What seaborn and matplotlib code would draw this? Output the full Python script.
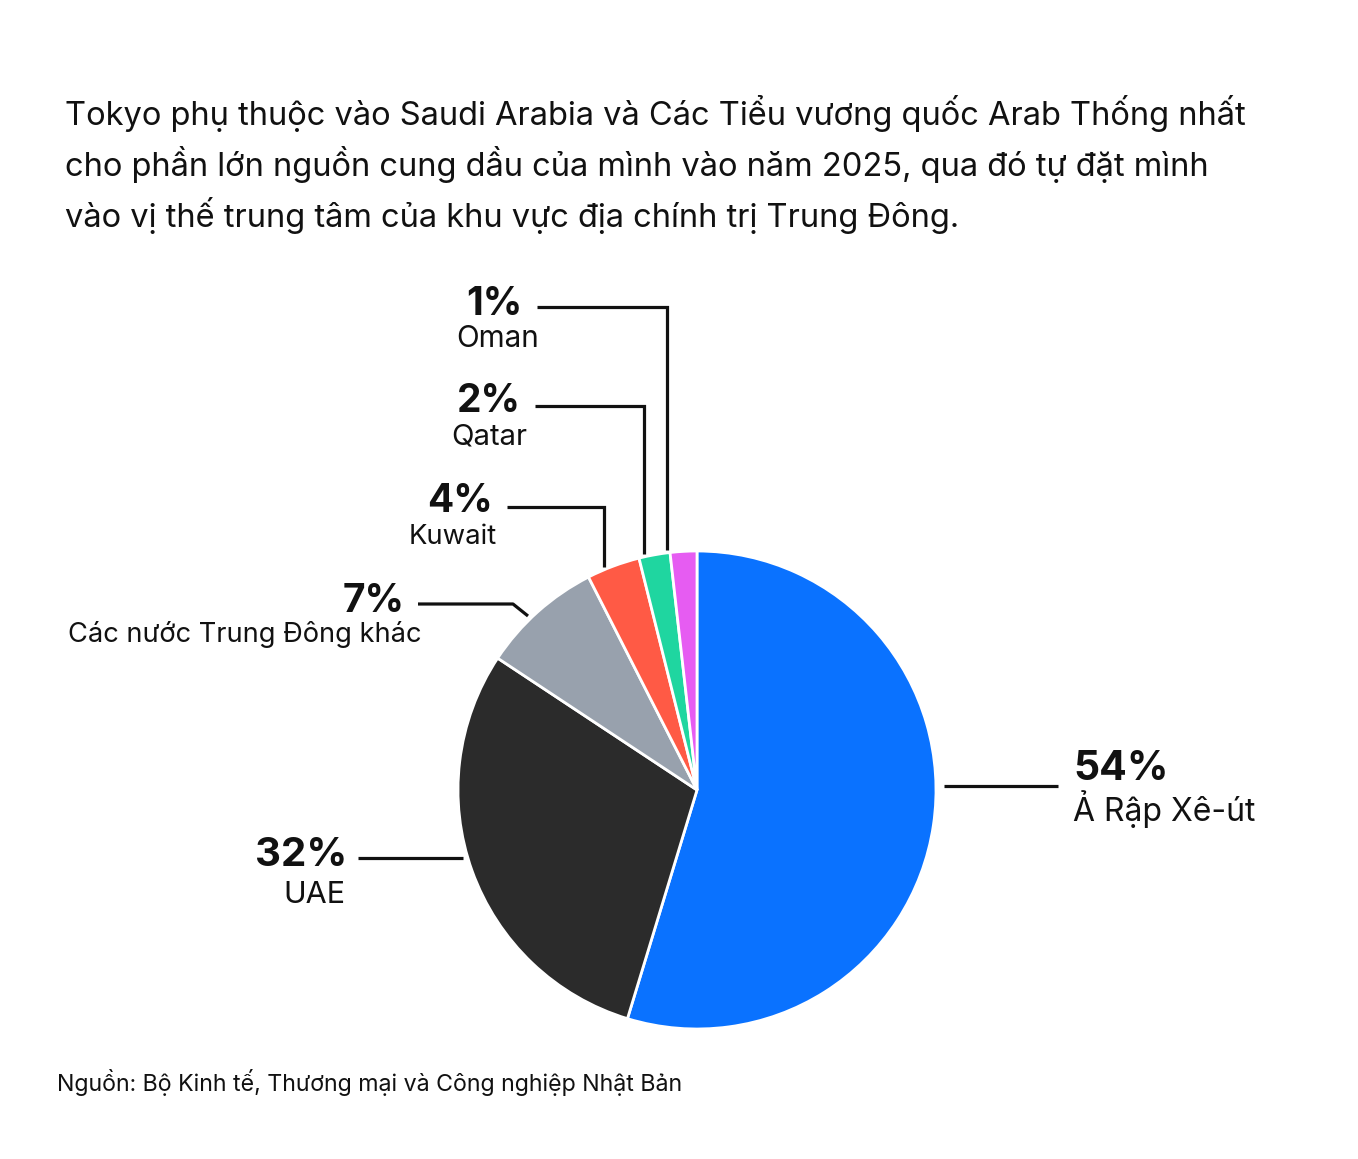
import numpy as np
import matplotlib
matplotlib.use("Agg")
import matplotlib.pyplot as plt
import seaborn as sns
from matplotlib import font_manager

sns.set_theme(style="white")

# ---- data ----
categories = ["Ả Rập Xê-út", "UAE", "Các nước Trung Đông khác", "Kuwait", "Qatar", "Oman"]
pct_labels = ["54%", "32%", "7%", "4%", "2%", "1%"]
shares = [54.7, 29.6, 8.2, 3.6, 2.1, 1.8]          # slice sizes as drawn
colors = ["#0A72FF", "#2B2B2B", "#98A1AD", "#FF5A45", "#1FD6A0", "#E65CF2"]

title_lines = [
    "Tokyo phụ thuộc vào Saudi Arabia và Các Tiểu vương quốc Arab Thống nhất",
    "cho phần lớn nguồn cung dầu của mình vào năm 2025, qua đó tự đặt mình",
    "vào vị thế trung tâm của khu vực địa chính trị Trung Đông.",
]
source = "Nguồn: Bộ Kinh tế, Thương mại và Công nghiệp Nhật Bản"

avail = {f.name for f in font_manager.fontManager.ttflist}
main_font = "Inter" if "Inter" in avail else "DejaVu Sans"
plt.rcParams["font.family"] = [main_font, "DejaVu Sans"]

W, H = 1358, 1159
fig = plt.figure(figsize=(W / 100, H / 100), dpi=100)
fig.patch.set_facecolor("white")

# pie axes (pixel geometry)
cx, cy, R = 697, 790, 239
ax = fig.add_axes([(cx - R) / W, (H - cy - R) / H, 2 * R / W, 2 * R / H])
ax.pie(shares, colors=colors, startangle=90, counterclock=False,
       wedgeprops=dict(edgecolor="white", linewidth=2.0))
ax.set_xlim(-1, 1)
ax.set_ylim(-1, 1)
ax.set_aspect("equal")
ax.axis("off")

# overlay axes in pixel coords
ov = fig.add_axes([0, 0, 1, 1], facecolor="none")
ov.set_xlim(0, W)
ov.set_ylim(H, 0)
ov.axis("off")

for i, line in enumerate(title_lines):
    ov.text(65, 125 + 51 * i, line, fontsize=23.5, color="#111111",
            ha="left", va="baseline")

ov.text(57, 1091, source, fontsize=16.7, color="#111111", ha="left",
        va="baseline")

def edge_y(x):
    return cy - np.sqrt(max(R ** 2 - (x - cx) ** 2, 0))

lw = 2.3
lc = "#111111"
# label layout: (pct x, pct baseline, pct ha, pct size, name x, name baseline, name ha, name size)
layout = [
    (1073, 780, "left", 29.5, 1073, 821, "left", 23.0),
    (347, 866, "right", 29.0, 345, 903, "right", 22.0),
    (405, 612, "right", 28.0, 421, 642, "right", 19.6),
    (493, 512, "right", 28.0, 497, 544, "right", 19.8),
    (521, 412, "right", 28.0, 527, 445, "right", 21.2),
    (522, 315, "right", 28.0, 539, 347, "right", 21.4),
]
for (px, py, pha, pfs, nx, ny, nha, nfs), p, name in zip(layout, pct_labels, categories):
    ov.text(px, py, p, fontsize=pfs, fontweight="bold", color=lc, ha=pha, va="baseline")
    ov.text(nx, ny, name, fontsize=nfs, color=lc, ha=nha, va="baseline")

# leader lines
ov.plot([944, 1058], [786, 786], color=lc, lw=lw, solid_capstyle="butt")
ov.plot([358, 463], [858, 858], color=lc, lw=lw, solid_capstyle="butt")
ov.plot([418, 513, 528], [604, 604, 616], color=lc, lw=lw, solid_capstyle="butt")
for (x0, xv, yh) in [(507, 604, 507), (535, 644, 406), (537, 667, 307)]:
    ov.plot([x0, xv, xv], [yh, yh, edge_y(xv) - 3], color=lc, lw=lw,
            solid_capstyle="butt", solid_joinstyle="miter")

fig.savefig("out.png", dpi=100, facecolor="white")
